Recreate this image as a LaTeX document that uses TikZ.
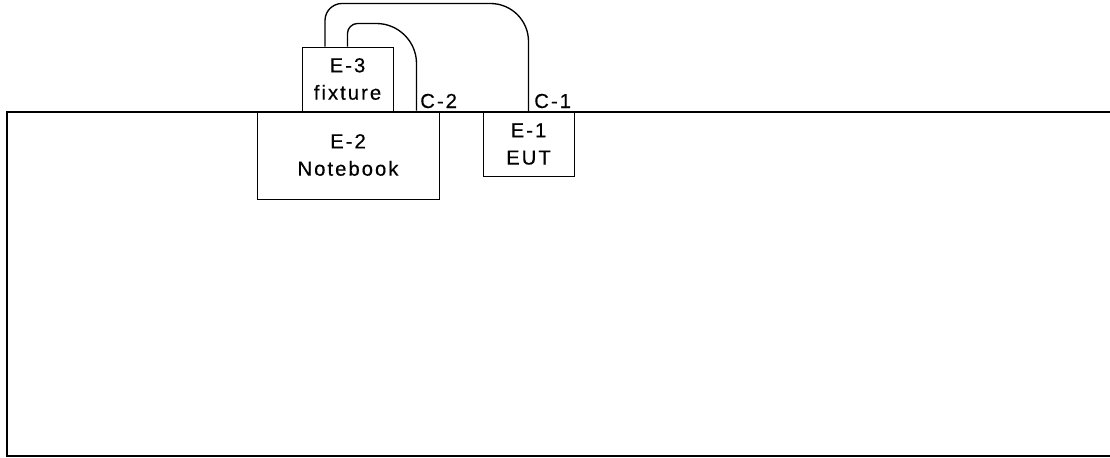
\documentclass[tikz,border=0pt]{standalone}
\usepackage{fontspec}
\setmainfont{Liberation Sans}[LetterSpace=10,FakeBold=0.4]
\usepackage{tikz}
\usetikzlibrary{positioning,calc}
\tikzset{
  unit/.style={draw, line width=0.75pt, align=center, inner sep=0pt, font=\fontsize{15.2}{20.5}\selectfont},
  cable/.style={line width=1pt},
  tbl/.style={line width=1pt},
  tag/.style={inner sep=0pt, anchor=base west, font=\fontsize{15.2}{20.5}\selectfont},
}

\begin{document}
\begin{tikzpicture}[x=0.75pt,y=-0.75pt]
\useasboundingbox (0,0) rectangle (1110,457);
% table edge
\draw[tbl] (1110,112) -- (7,112) -- (7,456) -- (1110,456);
% equipment
\node[unit, minimum width=136.5pt, minimum height=66pt] (notebook) at (348,155) {E-2\\Notebook};
\node[unit, minimum width=68.25pt, minimum height=48pt] (fixture) at (347.5,79) {E-3\\fixture};
\node[unit, minimum width=68.25pt, minimum height=48pt] (eut) at (528.5,144) {E-1\\EUT};
% cables
\draw[cable] ($(notebook.north east)+(-23,0)$) -- ++(0,-47)
  .. controls +(0,-22) and +(22,0) .. ++(-40,-40)
  -- ($(fixture.north)+(10,-23)$)
  .. controls +(-5.5,0) and +(0,-5.5) .. ++(-10,10) -- (fixture.north);
\draw[cable] (eut.north) -- ++(0,-70)
  .. controls +(0,-21) and +(21,0) .. ++(-38,-38)
  -- ($(fixture.north)+(-5.5,-43)$)
  .. controls +(-9.4,0) and +(0,-9.4) .. ++(-17,17) -- ($(fixture.north)+(-22.5,0)$);
\node[tag] (c2) at (420,108) {C-2};
\node[tag] (c1) at (534,108) {C-1};
\end{tikzpicture}
\end{document}
